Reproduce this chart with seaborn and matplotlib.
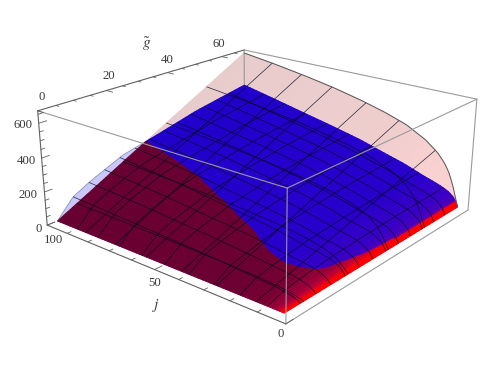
import matplotlib
matplotlib.use("Agg")
import matplotlib.pyplot as plt
import numpy as np
import seaborn as sns
from mpl_toolkits.mplot3d import proj3d

# Surface heights: rows follow j_levels, columns g_levels
j_levels = np.array([4, 5, 6, 8, 10, 13, 18, 26, 35, 45, 57, 70, 85, 100], dtype=float)
g_levels = np.array([3, 8, 13.5, 24, 36, 50, 69], dtype=float)

blue_z = np.array([
    [0, 0, 0, 0, 0, 0, 0],
    [0, 10, 15, 23, 28, 32, 35],
    [0, 16, 25, 38, 45, 50, 55],
    [0, 24, 38, 55, 65, 73, 80],
    [0, 30, 46, 66, 78, 87, 95],
    [0, 36, 54, 78, 92, 103, 112],
    [0, 42, 62, 88, 106, 123, 135],
    [0, 52, 76, 115, 138, 160, 178],
    [0, 62, 90, 138, 168, 194, 215],
    [0, 70, 104, 156, 194, 230, 258],
    [0, 78, 118, 178, 222, 262, 298],
    [0, 88, 135, 205, 250, 295, 338],
    [0, 98, 150, 228, 278, 330, 385],
    [0, 108, 163, 249, 301, 366, 430],
], dtype=float)

red_z = np.array([
    [0, 0, 0, 0, 0, 0, 0],
    [0, 4, 8, 16, 25, 36, 50],
    [0, 8, 17, 33, 53, 75, 105],
    [0, 14, 30, 60, 95, 135, 190],
    [0, 19, 39, 78, 122, 174, 245],
    [0, 23, 48, 95, 150, 214, 300],
    [0, 27, 57, 114, 180, 256, 360],
    [0, 32, 68, 135, 212, 303, 425],
    [0, 36, 75, 149, 235, 335, 470],
    [0, 39, 81, 162, 255, 363, 510],
    [0, 42, 87, 175, 275, 392, 550],
    [0, 44, 93, 186, 292, 417, 585],
    [0, 47, 99, 197, 310, 441, 620],
    [0, 49, 103, 207, 325, 463, 650],
], dtype=float)

red_mesh_j = [14, 29, 43, 58, 72, 86]
red_mesh_g = [9, 24, 39, 54]
blue_mesh_j = [10, 20, 30, 40, 50, 60, 70, 80, 90]
blue_mesh_g = [8, 13, 18, 23, 28, 33, 38, 43, 48, 53, 58, 63]

j_ticks = [0, 50, 100]
j_minor = [10, 20, 30, 40, 60, 70, 80, 90]
g_ticks = [0, 20, 40, 60]
g_minor = [5, 10, 15, 25, 30, 35, 45, 50, 55, 65]
z_ticks = [0, 200, 400, 600]
z_minor = [50, 100, 150, 250, 300, 350, 450, 500, 550, 650]

J_MAX, G_MAX, Z_TOP = 100, 69, 670
J_EDGE, G_EDGE = 4, 3

# shading along j
red_shade_j = [4, 5, 5.5, 7, 12, 24, 100]
red_shade = ["#ff0000", "#ff0000", "#d0002c", "#a0003c", "#780032", "#6c0032", "#680032"]
blue_shade_j = [4, 5, 5.2, 8, 20, 100]
blue_shade = ["#ff0000", "#ff0000", "#4c00bc", "#3800c6", "#2800cc", "#2000cc"]
pink_shade_j = [4, 30, 100]
pink_shade = ["#fdd2d2", "#efcdcd", "#e8cccc"]
pale_blue_shade_j = [4, 100]
pale_blue_shade = ["#c8c8fa", "#c8c8fa"]


def height(table, j, g):
    j, g = np.broadcast_arrays(np.asarray(j, float), np.asarray(g, float))
    ji = np.clip(np.searchsorted(j_levels, j, side="right") - 1, 0, len(j_levels) - 2)
    gi = np.clip(np.searchsorted(g_levels, g, side="right") - 1, 0, len(g_levels) - 2)
    tj = (j - j_levels[ji]) / (j_levels[ji + 1] - j_levels[ji])
    tg = (g - g_levels[gi]) / (g_levels[gi + 1] - g_levels[gi])
    low = table[ji, gi] * (1 - tj) + table[ji + 1, gi] * tj
    high = table[ji, gi + 1] * (1 - tj) + table[ji + 1, gi + 1] * tj
    return low * (1 - tg) + high * tg


def shade_rows(j_rows, stops, colors, n_cols):
    rgb = np.array(sns.color_palette(colors))
    mids = 0.5 * (j_rows[:-1] + j_rows[1:])
    row = np.column_stack([np.interp(mids, stops, rgb[:, k]) for k in range(3)])
    return np.repeat(row[:, None, :], n_cols - 1, axis=1)


sns.set_theme(style="white")
plt.rcParams["font.family"] = ["Liberation Serif", "DejaVu Serif"]
plt.rcParams["mathtext.fontset"] = "stix"

fig = plt.figure(figsize=(4.91, 3.79), dpi=100)
scale, tx, ty = 2349.88, 261.25, 216.66
ax = fig.add_axes([(tx - 0.095 * scale) / 491, (ty - 0.095 * scale) / 379,
                   0.185 * scale / 491, 0.185 * scale / 379], projection="3d")
ax.set_xlim(J_MAX, 0)
ax.set_ylim(0, G_MAX)
ax.set_zlim(0, Z_TOP)
ax.view_init(elev=20.808, azim=-50.208)
ax.set_proj_type("persp", focal_length=0.4248)
ax.set_box_aspect((1, 0.9941, 0.3935))
ax.set_axis_off()
ax.computed_zorder = False

# where the two surfaces cross, row by row
j_rows = np.unique(np.concatenate([np.linspace(4, 5, 4), np.linspace(5, 8, 10), np.linspace(8, 100, 60)]))
g_scan = np.linspace(G_EDGE, G_MAX, 500)
ridge = []
for j in j_rows:
    over = height(red_z, j, g_scan) > height(blue_z, j, g_scan) + 1e-6
    ridge.append(g_scan[np.argmax(over)] if over.any() else 45.0)
ridge = np.array(ridge)

frac = np.linspace(0, 1, 20)
J_front = np.repeat(j_rows[:, None], len(frac), axis=1)
G_front = G_EDGE + np.outer(ridge - G_EDGE, frac)
G_back = ridge[:, None] + np.outer(G_MAX - ridge, frac)
n = len(frac)


def surface(table, G, stops, colors, order):
    ax.plot_surface(J_front, G, height(table, J_front, G), rstride=1, cstride=1, shade=False,
                    facecolors=shade_rows(j_rows, stops, colors, n), linewidth=0.7, zorder=order)


# pale upper sheet, then the solid lower sheet
surface(blue_z, G_front, pale_blue_shade_j, pale_blue_shade, 1)
surface(red_z, G_back, pink_shade_j, pink_shade, 1)
surface(blue_z, G_back, blue_shade_j, blue_shade, 2)
surface(red_z, G_front, red_shade_j, red_shade, 2.1)

# mesh on both sheets
mesh_kw = dict(color="#05051e", lw=0.5, alpha=0.85, zorder=3)
j_line = np.linspace(J_EDGE, J_MAX, 90)
g_line = np.linspace(G_EDGE, G_MAX, 60)
for table, mesh_j, mesh_g in [(red_z, red_mesh_j, red_mesh_g), (blue_z, blue_mesh_j, blue_mesh_g)]:
    for j in mesh_j:
        ax.plot(np.full_like(g_line, j), g_line, height(table, j, g_line), **mesh_kw)
    for g in mesh_g:
        ax.plot(j_line, np.full_like(j_line, g), height(table, j_line, g), **mesh_kw)
ax.plot(j_line, np.full_like(j_line, G_MAX), height(red_z, j_line, G_MAX), color="#555555", lw=0.7, zorder=3)
ax.plot(np.full_like(g_line, 100), g_line, height(blue_z, 100, g_line), color="#9090b0", lw=0.5, zorder=1.2)

# bounding box
box_kw = dict(color="#9a9a9a", lw=0.8)
axis_kw = dict(color="#606060", lw=0.8, zorder=5)


def edge(a, b, **kw):
    ax.plot([a[0], b[0]], [a[1], b[1]], [a[2], b[2]], **kw)


edge((100, G_MAX, 0), (100, G_MAX, Z_TOP), zorder=1.5, **box_kw)
edge((100, G_MAX, Z_TOP), (0, G_MAX, Z_TOP), zorder=1.5, **box_kw)
edge((0, G_MAX, 0), (0, G_MAX, Z_TOP), zorder=1.5, **box_kw)
edge((100, 0, Z_TOP), (0, 0, Z_TOP), zorder=4, **box_kw)
edge((0, 0, Z_TOP), (0, G_MAX, Z_TOP), zorder=4, **box_kw)
edge((0, 0, 0), (0, 0, Z_TOP), zorder=4, **box_kw)
edge((0, 0, 0), (0, G_MAX, 0), zorder=4, **box_kw)
edge((100, 0, 0), (0, 0, 0), **axis_kw)
edge((100, 0, Z_TOP), (100, G_MAX, Z_TOP), **axis_kw)
edge((100, 0, 0), (100, 0, Z_TOP), **axis_kw)

# ticks
tick_kw = dict(color="#606060", lw=0.6, zorder=5)
for value, size in [(v, 2.2) for v in j_ticks] + [(v, 1.1) for v in j_minor]:
    edge((value, 0, 0), (value, size, 0), **tick_kw)
for value, size in [(v, 3.0) for v in g_ticks] + [(v, 1.5) for v in g_minor]:
    edge((100, value, Z_TOP), (100 - size, value, Z_TOP), **tick_kw)
for value, size in [(v, 2.2) for v in z_ticks] + [(v, 1.1) for v in z_minor]:
    edge((100, 0, value), (100, size, value), **tick_kw)


def label(text, point, offset, ha="center", size=9.2):
    x, y, _ = proj3d.proj_transform(*point, ax.get_proj())
    ax.annotate(text, xy=(x, y), xytext=offset, textcoords="offset pixels", ha=ha, va="center",
                fontsize=size, color="#3a3a3a", annotation_clip=False, zorder=6)


for value, off in zip(j_ticks, [(-5, -10), (0, -13), (6, -15)]):
    label(str(value), (value, 0, 0), off)
for value, off in zip(g_ticks, [(4, 14), (2, 14), (0, 13), (-3, 13)]):
    label(str(value), (100, value, Z_TOP), off)
for value, off in zip(z_ticks, [(-5, -4), (-7, -3), (-6, -3), (-6, -2)]):
    label(str(value), (100, 0, value), off, ha="right")
label(r"$j$", (50, 0, 0), (2, -36), size=11)
label(r"$\tilde{g}$", (100, 33, Z_TOP), (0, 34), size=11)

for child in ax.get_children():
    child.set_clip_on(False)

fig.savefig("out.png", dpi=100)
